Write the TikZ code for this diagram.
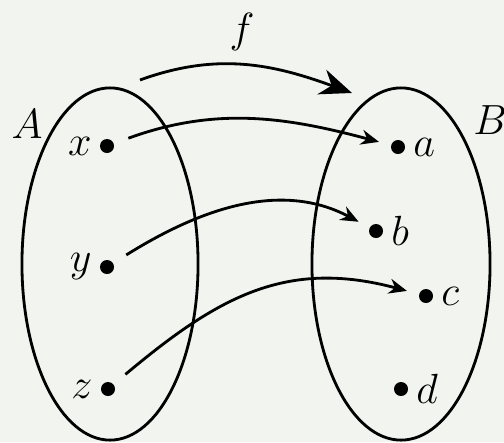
\documentclass[tikz,border=0pt]{standalone}
\usetikzlibrary{shapes.geometric,arrows.meta}
\definecolor{paper}{RGB}{241,244,239}
\begin{document}
\begin{tikzpicture}[x=0.01cm, y=0.01cm, font=\fontsize{11.5}{13}\selectfont,
    dot/.style={circle, fill, inner sep=0pt, minimum size=0.14cm},
    every label/.style={inner sep=2pt},
    set/.style={draw, thick, ellipse, inner sep=0pt},
    map/.style={thick, -{Stealth[length=0.18cm, width=0.15cm]}, shorten <=0.15cm, shorten >=0.12cm}]
    \fill[paper] (0,0) rectangle (504,442);
    \useasboundingbox (0,0) rectangle (504,442);
    % the two sets
    \node[set, minimum width=1.76cm, minimum height=3.52cm] (setA) at (110,178) {};
    \node[set, minimum width=1.78cm, minimum height=3.52cm] (setB) at (401,178) {};
    \node (lblA) at (27,318) {$A$};
    \node (lblB) at (490,322) {$B$};
    % elements
    \node[dot, label=left:$x$] (x) at (107,296) {};
    \node[dot, label=left:$y$] (y) at (107,175) {};
    \node[dot, label=left:$z$] (z) at (108,53) {};
    \node[dot, label=right:$a$] (a) at (398,295) {};
    \node[dot, label=right:$b$] (b) at (376,211) {};
    \node[dot, label=right:$c$] (c) at (426,146) {};
    \node[dot, label=right:$d$] (d) at (401,53) {};
    % the map f
    \coordinate (fs) at (140,362);
    \coordinate (fe) at (352,349);
    \draw[thick, -{Stealth[length=0.32cm, width=0.26cm]}] (fs) to[out=20, in=160] (fe);
    \node (lblf) at (242,410) {$f$};
    \draw[map] (x) to[out=20, in=165] (a);
    \draw[map] (y) to[out=32, in=152] (b);
    \draw[map] (z) to[out=40, in=165, looseness=1.1] (c);
\end{tikzpicture}
\end{document}
